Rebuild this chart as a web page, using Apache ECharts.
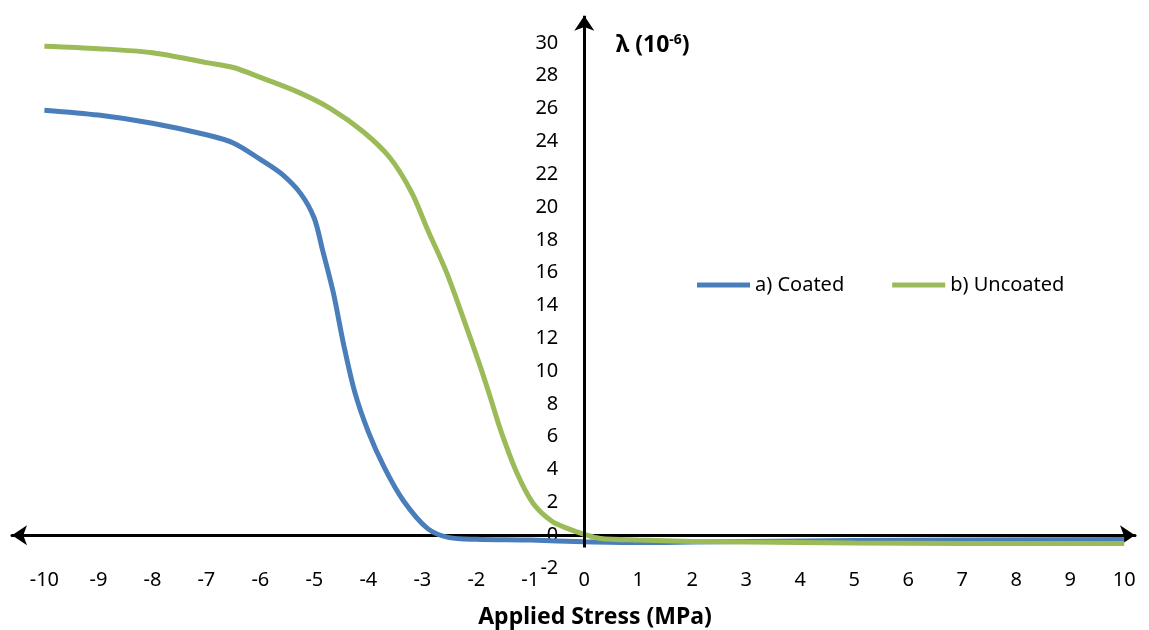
<!DOCTYPE html>
<html>
<head>
<meta charset="utf-8">
<script src="https://cdn.jsdelivr.net/npm/echarts@6/dist/echarts.min.js"></script>
<style>html,body{margin:0;padding:0;background:#fff}#c{width:1149px;height:630px}</style>
</head>
<body>
<div id="c"></div>
<script>
// Data
var coatedX = [-10, -9, -8, -7, -6.5, -6, -5.6, -5.25, -5, -4.85, -4.65, -4.45, -4.25, -4, -3.7, -3.35, -2.9, -2.5, -2, -1, 0, 1, 2, 3, 5, 7, 10];
var coatedY = [25.9, 25.6, 25.1, 24.4, 23.9, 22.9, 22.0, 20.8, 19.3, 17.4, 14.8, 11.5, 8.7, 6.3, 4.1, 2.1, 0.4, -0.15, -0.25, -0.3, -0.4, -0.45, -0.42, -0.38, -0.33, -0.3, -0.26];
var uncoatedX = [-10, -9, -8, -7, -6.5, -6, -5.3, -4.7, -4.1, -3.6, -3.2, -2.9, -2.55, -2.25, -1.95, -1.75, -1.55, -1.25, -0.95, -0.6, -0.3, 0, 0.3, 1, 2, 3, 5, 7, 10];
var uncoatedY = [29.8, 29.65, 29.4, 28.8, 28.5, 27.9, 27.0, 26.0, 24.6, 23.0, 20.9, 18.6, 16.0, 13.3, 10.5, 8.5, 6.4, 3.8, 1.95, 0.85, 0.4, 0.05, -0.2, -0.3, -0.38, -0.42, -0.47, -0.5, -0.5];
var xTicks = [-10, -9, -8, -7, -6, -5, -4, -3, -2, -1, 0, 1, 2, 3, 4, 5, 6, 7, 8, 9, 10];
var yTicks = [-2, 0, 2, 4, 6, 8, 10, 12, 14, 16, 18, 20, 22, 24, 26, 28, 30];
var seriesNames = ['a) Coated', 'b) Uncoated'];
var xTitle = 'Applied Stress (MPa)';

function zip(xs, ys) { return xs.map(function (x, i) { return [x, ys[i]]; }); }

var FONT = '"Noto Sans", "Open Sans", sans-serif';
var X_MIN = -10.6, X_MAX = 10.2, GRID_L = 12, GRID_R = 14;
// offset that moves the y-axis labels to sit beside x = 0
var plotW = 1149 - GRID_L - GRID_R;
var yAxisOffset = -(plotW * (0 - X_MIN) / (X_MAX - X_MIN));

var chart = echarts.init(document.getElementById('c'));
chart.setOption({
  animation: false,
  backgroundColor: '#ffffff',
  grid: { left: GRID_L, right: GRID_R, top: 15, bottom: 62, containLabel: false, outerBoundsMode: 'none' },
  legend: {
    left: 692, top: 270, itemWidth: 53, itemHeight: 5, itemGap: 48, icon: 'rect',
    textStyle: { fontFamily: FONT, fontSize: 20, color: '#000' },
    data: seriesNames
  },
  xAxis: {
    type: 'value', min: X_MIN, max: X_MAX,
    axisLine: { show: true, onZero: true, symbol: ['arrow', 'arrow'], symbolSize: [15, 15],
      lineStyle: { color: '#000', width: 3 } },
    axisTick: { show: false },
    splitLine: { show: false },
    axisLabel: { customValues: xTicks, margin: 2, color: '#000', fontFamily: FONT, fontSize: 20 }
  },
  yAxis: {
    type: 'value', min: -2, max: 31.7, offset: yAxisOffset,
    axisLine: { show: false, onZero: false },
    axisTick: { show: false },
    splitLine: { show: false },
    axisLabel: { customValues: yTicks, margin: 26, color: '#000', fontFamily: FONT, fontSize: 20 }
  },
  series: [
    {
      name: seriesNames[0], type: 'line', data: zip(coatedX, coatedY),
      smooth: 0.3, symbol: 'none', showSymbol: false,
      lineStyle: { color: '#4A7EBB', width: 5 }, itemStyle: { color: '#4A7EBB' },
      markLine: {
        silent: true, symbol: ['none', 'arrow'], symbolSize: [15, 15],
        label: { show: false },
        lineStyle: { color: '#000', width: 3, type: 'solid' },
        data: [[{ coord: [0, -0.75] }, { coord: [0, 31.65] }]]
      },
      z: 2
    },
    {
      name: seriesNames[1], type: 'line', data: zip(uncoatedX, uncoatedY),
      smooth: 0.3, symbol: 'none', showSymbol: false,
      lineStyle: { color: '#9BBB59', width: 5 }, itemStyle: { color: '#9BBB59' },
      z: 3
    }
  ],
  graphic: [
    { type: 'text', x: 595, y: 617, style: { text: xTitle, textAlign: 'center', textVerticalAlign: 'middle',
      font: 'bold 23px "Noto Sans", sans-serif', fill: '#000' } },
    { type: 'text', x: 616, y: 45, style: { text: '{a|λ (10}{b|-6}{a|)}', textAlign: 'left', textVerticalAlign: 'middle',
      rich: {
        a: { fontFamily: 'Noto Sans', fontWeight: 'bold', fontSize: 23, fill: '#000', color: '#000', verticalAlign: 'bottom' },
        b: { fontFamily: 'Noto Sans', fontWeight: 'bold', fontSize: 14, fill: '#000', color: '#000', verticalAlign: 'top' }
      } } }
  ]
});
</script>
</body>
</html>
